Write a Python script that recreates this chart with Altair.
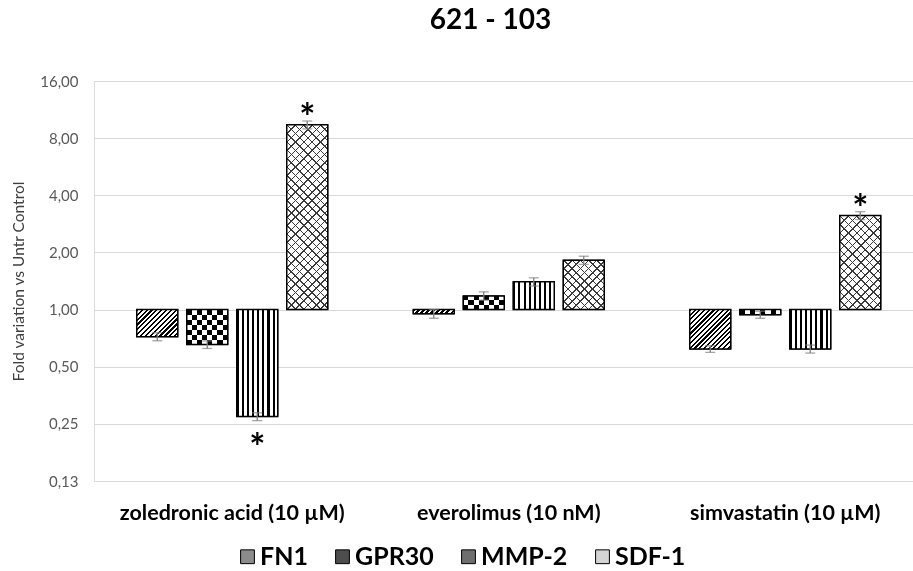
import math
import altair as alt
import pandas as pd

# ---------------- data ----------------
categories = ["zoledronic acid (10 µM)", "everolimus (10 nM)", "simvastatin (10 µM)"]
series = ["FN1", "GPR30", "MMP-2", "SDF-1"]

zoledronic_vals = [0.72, 0.654, 0.273, 9.40]
everolimus_vals = [0.95, 1.18, 1.40, 1.82]
simvastatin_vals = [0.62, 0.94, 0.62, 3.13]

zoledronic_err = [0.035, 0.03, 0.013, 0.45]
everolimus_err = [0.05, 0.06, 0.07, 0.09]
simvastatin_err = [0.025, 0.04, 0.03, 0.15]

zoledronic_star = ["", "", "below", "above"]
everolimus_star = ["", "", "", ""]
simvastatin_star = ["", "", "", "above"]

y_ticks = [0.125, 0.25, 0.5, 1, 2, 4, 8, 16]

# ---------------- table ----------------
rows = []
for cat, vals, errs, stars in [
    (categories[0], zoledronic_vals, zoledronic_err, zoledronic_star),
    (categories[1], everolimus_vals, everolimus_err, everolimus_star),
    (categories[2], simvastatin_vals, simvastatin_err, simvastatin_star),
]:
    for s, v, e, st in zip(series, vals, errs, stars):
        rows.append({"cat": cat, "series": s, "value": v,
                     "low": v - e, "high": v + e, "star": st})
df = pd.DataFrame(rows)

# ---------------- layout ----------------
PAD_L, PAD_T = 94, 81
W, H = 913 - PAD_L, 400
PPD = H / math.log2(16 / 0.125)          # pixels per doubling
STEP_X = 276.5
BAR_W = 41.0
FONT = "Lato"

x_enc = alt.X("cat:N", sort=categories,
              scale=alt.Scale(domain=categories, range=[0, STEP_X * 3],
                              paddingInner=0, paddingOuter=0),
              axis=alt.Axis(title=None, labelAngle=0, ticks=False, domain=False,
                            grid=False, labelFont=FONT, labelFontSize=21.5,
                            labelFontWeight="bold", labelColor="black",
                            labelPadding=21, labelLimit=500))
xo_enc = alt.XOffset("series:N", sort=series,
                     scale=alt.Scale(domain=series, paddingInner=0.18, paddingOuter=0.855))
y_enc = alt.Y("value:Q",
              scale=alt.Scale(type="log", base=2, domain=[0.125, 16], nice=False),
              axis=alt.Axis(values=y_ticks,
                            labelExpr="replace(format(datum.value, '.2f'), '.', ',')",
                            grid=True, gridColor="#d9d9d9", gridWidth=1,
                            domain=False, ticks=False, labelFont=FONT,
                            labelFontSize=15, labelColor="#595959", labelPadding=16,
                            title="Fold variation vs Untr Control", titleFont=FONT,
                            titleFontSize=15.5, titleFontWeight="normal",
                            titleColor="#404040", titlePadding=13))

base = alt.Chart(df)


def segs_gradient(x1, y1, x2, y2, segs):
    total = sum(l for l, _ in segs)
    stops, pos = [], 0.0
    for l, c in segs:
        a = pos / total
        pos += l
        b = pos / total
        stops.append({"offset": round(a, 5), "color": c})
        stops.append({"offset": round(b, 5), "color": c})
    return {"gradient": "linear", "x1": x1, "y1": y1, "x2": x2, "y2": y2, "stops": stops}


def stripes(x1, y1, x2, y2, n, frac, on, off):
    segs = []
    for _ in range(n):
        segs += [(frac, on), (1 - frac, off)]
    return segs_gradient(x1, y1, x2, y2, segs)


def diag(w, h, period, frac, on, off, rising=True):
    s = (w + h) / (w * w + h * h)
    n = max(1, round((w + h) / math.sqrt(2) / period))
    if rising:   # "/" lines
        return stripes(0, 0, s * w, s * h, n, frac, on, off)
    return stripes(0, 1, s * w, 1 - s * h, n, frac, on, off)   # "\" lines


def bar_layer(cat, ser, fill, **kw):
    return base.transform_filter(
        (alt.datum.cat == cat) & (alt.datum.series == ser)
    ).mark_bar(fill=fill, **kw).encode(x=x_enc, xOffset=xo_enc, y=y_enc, y2=alt.datum(1))


# base layer (gives the legend)
legend_colors = ["#8c8c8c", "#4d4d4d", "#6e6e6e", "#d4d4d4"]
base_bars = base.mark_bar(stroke="black", strokeWidth=1).encode(
    x=x_enc, xOffset=xo_enc, y=y_enc, y2=alt.datum(1),
    fill=alt.Fill("series:N", sort=series,
                  scale=alt.Scale(domain=series, range=legend_colors),
                  legend=alt.Legend(title=None, orient="none", legendX=133, legendY=463,
                                    direction="horizontal", symbolType="square",
                                    symbolSize=190, symbolStrokeColor="black",
                                    symbolStrokeWidth=1, symbolOffset=8, labelFont=FONT,
                                    labelFontSize=25, labelFontWeight="bold",
                                    labelColor="black", labelOffset=0,
                                    columnPadding=14, labelLimit=300)),
)

layers = [base_bars]
CLEAR_W = "rgba(255,255,255,0)"
CLEAR_K = "rgba(0,0,0,0)"
for r in rows:
    cat, ser, v = r["cat"], r["series"], r["value"]
    h = max(1.0, abs(math.log2(v)) * PPD)
    w = BAR_W
    if ser == "FN1":
        layers.append(bar_layer(cat, ser, diag(w, h, 3.4, 0.45, "black", "white", True)))
    elif ser == "GPR30":
        nrows = max(1, round(h / (w / 8)))
        segs = [(1, "black" if i % 2 == 0 else "white") for i in range(nrows)]
        layers.append(bar_layer(cat, ser, segs_gradient(0, 0, 0, 1, segs)))
        cols = [(1, CLEAR_W if j % 2 == 0 else "white") for j in range(8)]
        layers.append(bar_layer(cat, ser, segs_gradient(0, 0, 1, 0, cols), blend="difference"))
    elif ser == "MMP-2":
        layers.append(bar_layer(cat, ser, stripes(0, 0, 1, 0, 8, 0.4, "black", "white")))
    else:
        layers.append(bar_layer(cat, ser, diag(w, h, 6.0, 0.18, "#3a3a3a", "white", True)))
        layers.append(bar_layer(cat, ser, diag(w, h, 6.0, 0.18, "#3a3a3a", CLEAR_K, False)))

outline = base.mark_bar(fillOpacity=0, stroke="black", strokeWidth=1.5).encode(
    x=x_enc, xOffset=xo_enc, y=y_enc, y2=alt.datum(1))
layers.append(outline)

err_rule = base.mark_rule(color="#7f7f7f", strokeWidth=1.3).encode(
    x=x_enc, xOffset=xo_enc, y=alt.Y("low:Q", scale=alt.Scale(type="log", base=2)), y2="high:Q")
err_lo = base.mark_tick(color="#7f7f7f", thickness=1.3, size=10).encode(
    x=x_enc, xOffset=xo_enc, y=alt.Y("low:Q"))
err_hi = base.mark_tick(color="#7f7f7f", thickness=1.3, size=10).encode(
    x=x_enc, xOffset=xo_enc, y=alt.Y("high:Q"))
layers += [err_rule, err_lo, err_hi]

star_up = base.transform_filter(alt.datum.star == "above").mark_text(
    text="*", font=FONT, fontSize=38, fontWeight="bold", color="black",
    baseline="alphabetic", dy=10).encode(x=x_enc, xOffset=xo_enc, y=alt.Y("high:Q"))
star_dn = base.transform_filter(alt.datum.star == "below").mark_text(
    text="*", font=FONT, fontSize=38, fontWeight="bold", color="black",
    baseline="alphabetic", dy=40).encode(x=x_enc, xOffset=xo_enc, y=alt.Y("low:Q"))
layers += [star_up, star_dn]

chart = alt.layer(*layers).properties(
    width=W, height=H,
    title=alt.TitleParams("621 - 103", font=FONT, fontSize=28, fontWeight="bold",
                          color="black", anchor="middle", offset=39, dx=-13),
    autosize=alt.AutoSizeParams(type="none"),
    padding={"left": PAD_L, "top": PAD_T, "right": 0, "bottom": 571 - PAD_T - H},
).configure_view(stroke=None).configure(background="white")

chart.save("out.html", embed_options={"renderer": "svg", "actions": False})
